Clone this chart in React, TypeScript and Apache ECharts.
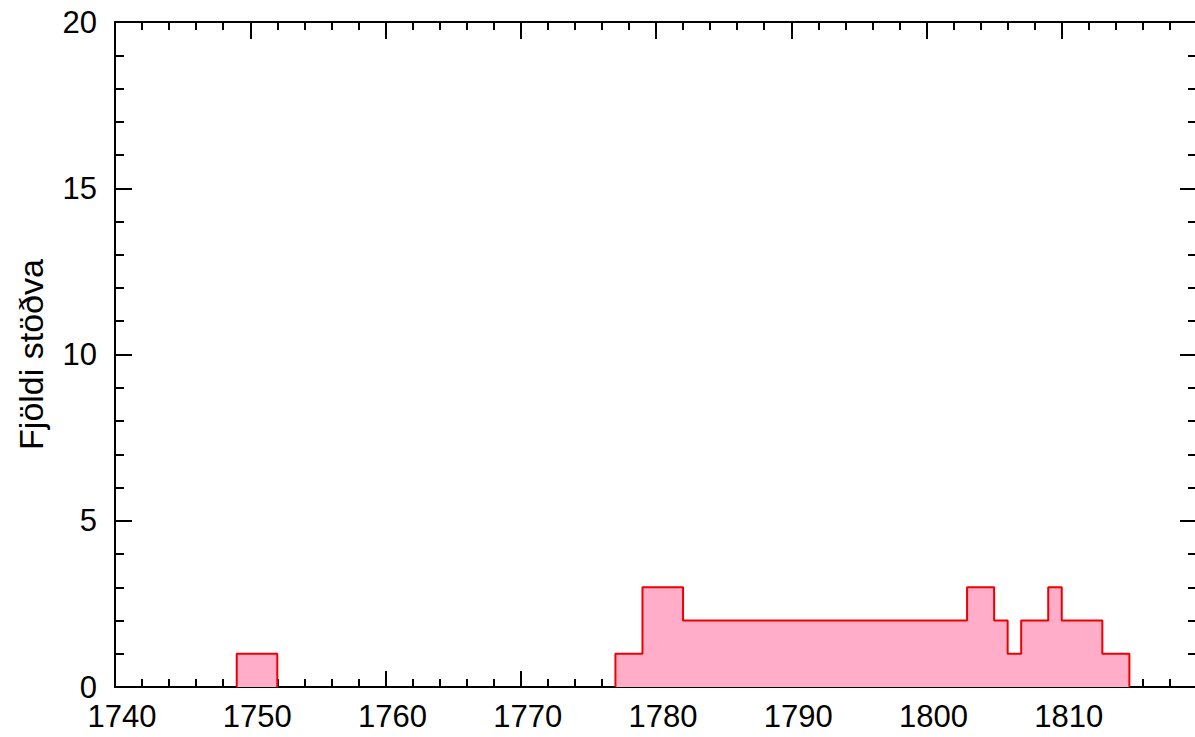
import React, { useEffect, useRef } from "react";
import * as echarts from "echarts";

// Years (bin start) with a non-zero number of stations, and the station counts
const years = [
  1749, 1750, 1751,
  1777, 1778, 1779, 1780, 1781,
  1782, 1783, 1784, 1785, 1786, 1787, 1788, 1789, 1790, 1791, 1792,
  1793, 1794, 1795, 1796, 1797, 1798, 1799, 1800, 1801, 1802,
  1803, 1804, 1805, 1806, 1807, 1808, 1809, 1810, 1811, 1812, 1813, 1814,
];
const counts = [
  1, 1, 1,
  1, 1, 3, 3, 3,
  2, 2, 2, 2, 2, 2, 2, 2, 2, 2, 2,
  2, 2, 2, 2, 2, 2, 2, 2, 2, 2,
  3, 3, 2, 1, 2, 2, 3, 2, 2, 2, 1, 1,
];
const yAxisName = "Fjöldi stöðva";

function buildStepData() {
  const out: any[] = [];
  for (let i = 0; i < years.length; i++) {
    const y = years[i];
    const prev = i > 0 ? years[i - 1] : null;
    if (prev === null || y !== prev + 1) {
      if (prev !== null) {
        out.push([prev + 1, 0]);
        out.push([prev + 1, null]);
      }
      out.push([y, 0]);
    }
    out.push([y, counts[i]]);
  }
  out.push([years[years.length - 1] + 1, 0]);
  return out;
}

export default function App() {
  const ref = useRef<HTMLDivElement>(null);
  useEffect(() => {
    if (!ref.current) return;
    const chart = echarts.init(ref.current, undefined, { renderer: "svg" });
    const axisLine = { show: true, onZero: false, lineStyle: { color: "#000", width: 2 } };
    const noLine = { show: false, onZero: false };
    const tickStyle = { color: "#000", width: 2 };
    const font = "'Liberation Sans', Arial, sans-serif";
    const xBase = { type: "value", min: 1740, max: 1820, splitLine: { show: false }, minorTick: { show: false } };
    const yBase = { type: "value", min: 0, max: 20, splitLine: { show: false }, minorTick: { show: false } };
    const minorX = (position: string) => ({
      ...xBase,
      interval: 2,
      position,
      axisLine: noLine,
      axisTick: { show: true, inside: true, length: 8, lineStyle: tickStyle },
      axisLabel: { show: false },
    });
    const minorY = (position: string) => ({
      ...yBase,
      interval: 1,
      position,
      axisLine: noLine,
      axisTick: { show: true, inside: true, length: 9, lineStyle: tickStyle },
      axisLabel: { show: false },
    });
    chart.setOption({
      animation: false,
      backgroundColor: "#fff",
      grid: { left: 115, right: -2, top: 22, bottom: 50, containLabel: false, outerBoundsMode: "none" },
      xAxis: [
        {
          ...xBase,
          interval: 10,
          position: "bottom",
          axisLine,
          axisTick: { show: true, inside: true, length: 16, lineStyle: tickStyle },
          axisLabel: {
            color: "#000",
            fontSize: 31,
            fontFamily: font,
            margin: 14,
            padding: [0, 0, 0, 14],
            formatter: (v: number) => (v >= 1820 ? "" : String(v)),
          },
        },
        {
          ...xBase,
          interval: 10,
          position: "top",
          axisLine,
          axisTick: { show: true, inside: true, length: 17, lineStyle: tickStyle },
          axisLabel: { show: false },
        },
        minorX("bottom"),
        minorX("top"),
      ],
      yAxis: [
        {
          ...yBase,
          interval: 5,
          position: "left",
          name: yAxisName,
          nameLocation: "middle",
          nameGap: 67,
          nameTextStyle: { color: "#000", fontSize: 34, fontFamily: font },
          axisLine,
          axisTick: { show: true, inside: true, length: 17, lineStyle: tickStyle },
          axisLabel: { color: "#000", fontSize: 31, fontFamily: font, margin: 18 },
        },
        {
          ...yBase,
          interval: 5,
          position: "right",
          axisLine,
          axisTick: { show: true, inside: true, length: 17, lineStyle: tickStyle },
          axisLabel: { show: false },
        },
        minorY("left"),
        minorY("right"),
      ],
      series: [
        {
          type: "line",
          step: "end",
          data: buildStepData(),
          symbol: "none",
          connectNulls: false,
          lineStyle: { color: "#ee0000", width: 2 },
          areaStyle: { color: "#ffadc9", opacity: 1 },
          z: 1,
        },
      ],
    });
    return () => chart.dispose();
  }, []);
  return (
    <div
      ref={ref}
      style={{ position: "fixed", left: 0, top: 0, width: 1195, height: 737 }}
    />
  );
}
